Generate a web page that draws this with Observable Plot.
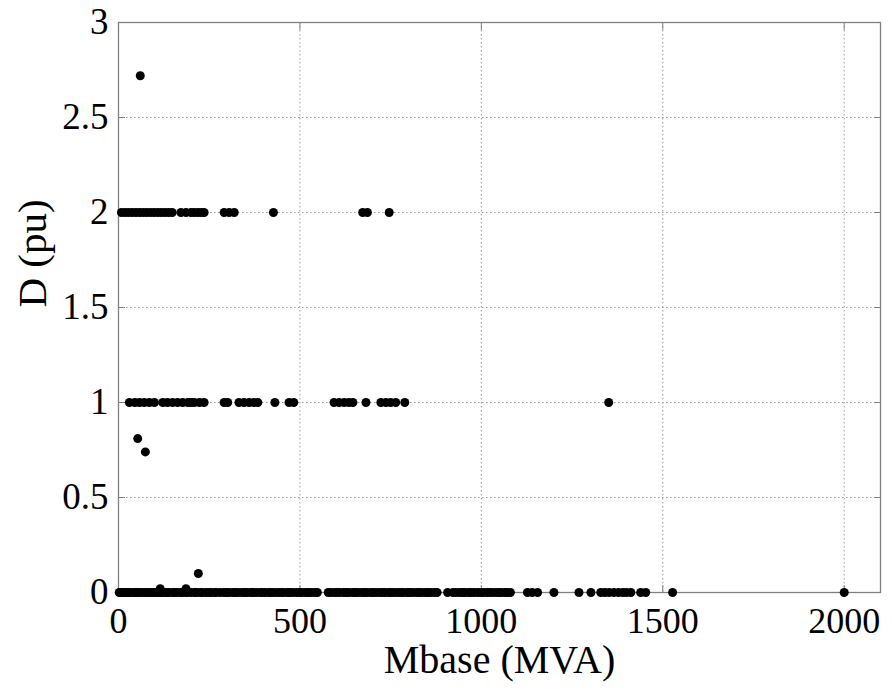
<!DOCTYPE html>
<html>
<head>
<meta charset="utf-8">
<script src="https://cdn.jsdelivr.net/npm/d3@7"></script>
<script src="https://cdn.jsdelivr.net/npm/@observablehq/plot@0.6"></script>
<style>
  html, body { margin: 0; padding: 0; background: #fff; }
  #chart svg { display: block; overflow: visible; }
</style>
</head>
<body>
<div id="chart"></div>
<script>
// Mbase (MVA) values of units with D = 0 pu
const zeroRowMVA = [2, 5, 10, 15, 20, 25, 30, 38, 45, 50, 55, 60, 68, 75, 80, 88, 95, 100, 108, 115, 120, 128, 135, 140, 150, 155, 160, 170, 176, 185, 190, 200, 210, 215, 225, 230, 240, 248, 255, 265, 270, 280, 290, 298, 305, 315, 322, 330, 340, 348, 355, 365, 372, 380, 390, 398, 405, 415, 422, 430, 440, 448, 455, 465, 472, 480, 490, 498, 505, 515, 522, 530, 540, 548,
  578, 585, 595, 602, 610, 620, 628, 635, 645, 652, 660, 670, 678, 685, 695, 702, 710, 720, 728, 735, 745, 752, 760, 770, 778, 785, 795, 802, 810, 820, 828, 835, 845, 852, 860, 870, 878,
  907,
  922, 930, 940, 948, 955, 965, 972, 980, 990, 998, 1005, 1015, 1022, 1030, 1040, 1048, 1055, 1065, 1072, 1080,
  1127, 1140, 1155, 1200, 1269, 1302,
  1329, 1340, 1352, 1365, 1378, 1390, 1400, 1412, 1439, 1453, 1527, 2000];
// Mbase values of units with D = 1 pu
const oneRowMVA = [30, 45, 58, 71, 85, 99, 122, 135, 149, 163, 177, 191, 200, 209, 223, 236,
  291, 301, 332, 346, 360, 373, 384, 431, 470, 483,
  594, 608, 622, 635, 646, 682, 723, 737, 750, 764, 789, 1351];
// Mbase values of units with D = 2 pu
const twoRowMVA = [8, 18, 28, 38, 48, 58, 68, 78, 88, 98, 108, 118, 128, 138, 148,
  172, 186, 200, 209, 219, 228, 236, 291, 305, 319, 427, 673, 686, 746];
// remaining units: Mbase and D
const otherMVA = [60, 53, 74, 115, 186, 220];
const otherD = [2.72, 0.81, 0.74, 0.02, 0.02, 0.1];

const xTicks = [0, 500, 1000, 1500, 2000];
const yTicks = [0, 0.5, 1, 1.5, 2, 2.5, 3];
const xLabel = "Mbase (MVA)";
const yLabel = "D (pu)";

const points = [
  ...zeroRowMVA.map(m => ({mva: m, d: 0})),
  ...oneRowMVA.map(m => ({mva: m, d: 1})),
  ...twoRowMVA.map(m => ({mva: m, d: 2})),
  ...otherMVA.map((m, i) => ({mva: m, d: otherD[i]}))
];

const font = "'Liberation Serif', 'Times New Roman', serif";
const gridColor = "#9a9a9a";
const axisColor = "#808080";

const chart = Plot.plot({
  width: 892,
  height: 690,
  marginLeft: 118,
  marginRight: 12,
  marginTop: 22,
  marginBottom: 98,
  style: {fontFamily: font, background: "#fff", color: "#000"},
  x: {domain: [0, 2100], ticks: xTicks},
  y: {domain: [0, 3], ticks: yTicks},
  marks: [
    Plot.gridX(xTicks, {stroke: gridColor, strokeOpacity: 1, strokeDasharray: "1.5,2.5", strokeWidth: 1}),
    Plot.gridY(yTicks, {stroke: gridColor, strokeOpacity: 1, strokeDasharray: "1.5,2.5", strokeWidth: 1}),
    Plot.axisX(xTicks, {anchor: "bottom", tickSize: 0, tickPadding: 15, fontSize: 36, label: null, tickFormat: d3.format("d")}),
    Plot.axisY(yTicks, {anchor: "left", tickSize: 0, tickPadding: 10, fontSize: 37, label: null, tickFormat: d => String(d)}),
    Plot.axisX(xTicks, {anchor: "bottom", tickSize: -7, text: null, label: null, stroke: axisColor}),
    Plot.axisX(xTicks, {anchor: "top", tickSize: -7, text: null, label: null, stroke: axisColor}),
    Plot.axisY(yTicks, {anchor: "left", tickSize: -7, text: null, label: null, stroke: axisColor}),
    Plot.axisY(yTicks, {anchor: "right", tickSize: -7, text: null, label: null, stroke: axisColor}),
    Plot.frame({stroke: axisColor, strokeWidth: 1.3}),
    Plot.dot(points, {x: "mva", y: "d", r: 4.5, fill: "#000", stroke: "none"}),
    Plot.text([xLabel], {frameAnchor: "bottom", dy: 68, text: d => d, fontSize: 40, lineAnchor: "middle", fill: "#000"}),
    Plot.text([yLabel], {frameAnchor: "left", dx: -86, rotate: -90, text: d => d, fontSize: 41, lineAnchor: "middle", fill: "#000"})
  ]
});

document.getElementById("chart").appendChild(chart);
</script>
</body>
</html>
